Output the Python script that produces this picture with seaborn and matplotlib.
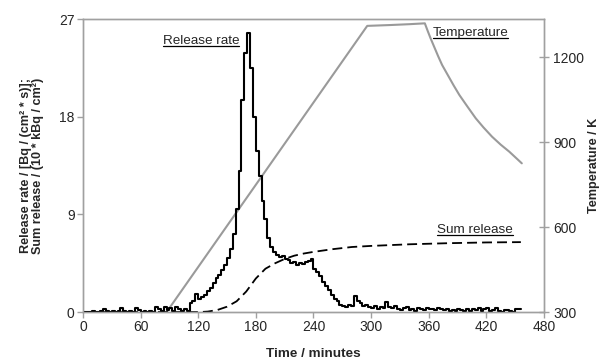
import numpy as np
import pandas as pd
import matplotlib
matplotlib.use("Agg")
import matplotlib.pyplot as plt
from matplotlib.lines import Line2D
import seaborn as sns

# release rate, 3-minute steps starting at t = 0
step = 3
rate = [
	0.05, 0.05, 0.05, 0.1, 0.05, 0.05, 0.1, 0.3, 0.1, 0.05,
	0.1, 0.05, 0.1, 0.35, 0.1, 0.05, 0.1, 0.05, 0.4, 0.2,
	0.05, 0.1, 0.05, 0.1, 0.05, 0.45, 0.3, 0.1, 0.5, 0.2,
	0.4, 0.1, 0.5, 0.3, 0.1, 0.3, 0.1, 0.8, 1.0, 1.7,
	1.2, 1.4, 1.6, 1.9, 2.2, 2.7, 3.1, 3.4, 3.9, 4.3,
	5.0, 5.8, 7.2, 9.5, 13.0, 19.5, 23.9, 25.7, 22.5, 18.0,
	14.8, 12.5, 10.2, 8.6, 6.8, 6.0, 5.5, 5.3, 5.1, 5.2,
	4.9, 4.8, 4.5, 4.6, 4.3, 4.5, 4.4, 4.6, 4.7, 4.9,
	4.0, 3.7, 3.3, 2.8, 2.4, 2.0, 1.6, 1.2, 1.0, 0.7,
	0.6, 0.5, 0.7, 0.6, 1.5, 1.0, 0.8, 0.6, 0.7, 0.5,
	0.4, 0.6, 0.3, 0.5, 0.4, 0.9, 0.5, 0.4, 0.6, 0.3,
	0.2, 0.4, 0.5, 0.2, 0.3, 0.1, 0.4, 0.3, 0.2, 0.4,
	0.3, 0.3, 0.2, 0.4, 0.3, 0.2, 0.3, 0.1, 0.2, 0.1,
	0.3, 0.2, 0.1, 0.3, 0.1, 0.3, 0.2, 0.4, 0.1, 0.3,
	0.4, 0.1, 0.2, 0.35, 0.1, 0.05, 0.2, 0.15, 0.1, 0.05,
	0.3, 0.25,
]

sum_time = [0, 60, 120, 130, 140, 150, 160, 170, 180, 190, 200, 210, 220,
	230, 240, 260, 280, 300, 340, 380, 420, 456]
sum_release = [0.0, 0.0, 0.0, 0.05, 0.2, 0.5, 1.0, 1.9, 3.1, 4.0, 4.5, 4.9,
	5.2, 5.4, 5.55, 5.8, 6.0, 6.1, 6.25, 6.35, 6.42, 6.45]

temp_time = [87, 296, 320, 340, 356, 359, 362, 366, 370, 374, 380, 386, 392,
	400, 409, 417, 426, 435, 444, 451, 457]
temperature = [300, 1310, 1313, 1316, 1319, 1292, 1266, 1234, 1202, 1172, 1136,
	1100, 1066, 1027, 984, 952, 919, 891, 866, 844, 825]

x_ticks = [0, 60, 120, 180, 240, 300, 360, 420, 480]
left_ticks = [0, 9, 18, 27]
right_ticks = [300, 600, 900, 1200]


def underline(fig, txt):
	# draw a thin line just under the text box
	fig.canvas.draw()
	bb = txt.get_window_extent(renderer=fig.canvas.get_renderer())
	inv = fig.transFigure.inverted()
	x0, y0 = inv.transform((bb.x0, bb.y0 + 1))
	x1, _ = inv.transform((bb.x1, bb.y0 + 1))
	fig.add_artist(Line2D([x0, x1], [y0, y0], color="black", linewidth=0.9,
		transform=fig.transFigure))


def main():
	sns.set_style("white")
	plt.rcParams["font.family"] = ["Liberation Sans", "DejaVu Sans"]

	t = list(np.arange(len(rate)) * step) + [len(rate) * step]
	rate_df = pd.DataFrame({"time": t, "rate": rate + [rate[-1]]})
	sum_df = pd.DataFrame({"time": sum_time, "sum": sum_release})
	temp_df = pd.DataFrame({"time": temp_time, "temp": temperature})

	fig, ax = plt.subplots(figsize=(5.99, 3.6), dpi=100)
	fig.subplots_adjust(left=0.1386, right=0.908, top=0.947, bottom=0.133)
	ax2 = ax.twinx()

	sns.lineplot(data=temp_df, x="time", y="temp", ax=ax2, color="#9a9a9a",
		linewidth=1.5)
	sns.lineplot(data=rate_df, x="time", y="rate", ax=ax, color="black",
		linewidth=1.5, drawstyle="steps-post")
	sns.lineplot(data=sum_df, x="time", y="sum", ax=ax, color="black",
		linewidth=1.3, linestyle=(0, (5.5, 2.8)))
	ax.set_zorder(ax2.get_zorder() + 1)
	ax.patch.set_visible(False)

	ax.set_xlim(0, 480)
	ax.set_ylim(0, 27)
	ax2.set_ylim(300, 1334)
	ax.set_xticks(x_ticks)
	ax.set_yticks(left_ticks)
	ax2.set_yticks(right_ticks)

	for a in (ax, ax2):
		for s in a.spines.values():
			s.set_color("#a0a0a0")
			s.set_linewidth(1.0)
	ax.tick_params(axis="both", direction="out", length=4, width=1,
		color="#a0a0a0", labelsize=10, pad=2, left=True, bottom=True)
	ax2.tick_params(axis="y", direction="inout", length=7, width=1,
		color="#a0a0a0", labelsize=10, pad=3, right=True)

	ax.set_xlabel("Time / minutes", fontsize=9.7, fontweight="bold", labelpad=10)
	ax.set_ylabel("Release rate / [Bq / (cm² * s)];\nSum release / (10 * kBq / cm²)",
		fontsize=9.1, fontweight="bold", labelpad=11, linespacing=1.0)
	ax2.set_ylabel("Temperature / K", fontsize=9.1, fontweight="bold",
		rotation=90, labelpad=3)

	labels = [
		ax.text(83, 25.0, "Release rate", fontsize=9.7, ha="left", va="center"),
		ax.text(364, 25.7, "Temperature", fontsize=9.7, ha="left", va="center"),
		ax.text(369, 7.6, "Sum release", fontsize=9.7, ha="left", va="center"),
	]
	for txt in labels:
		underline(fig, txt)

	fig.savefig("out.png", dpi=100)
	plt.close(fig)


if __name__ == "__main__":
	main()
